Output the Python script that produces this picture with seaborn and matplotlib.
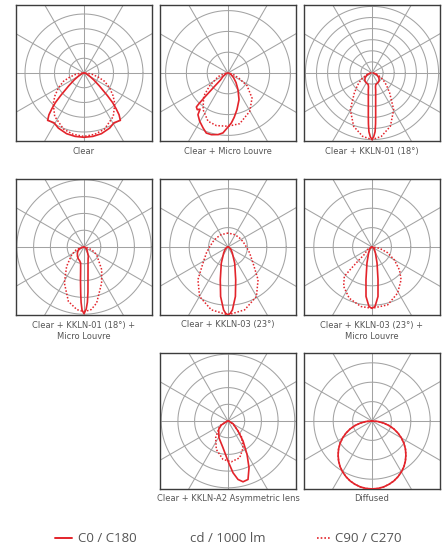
"""Photometric polar diagrams (cd / 1000 lm) for the luminaire optic variants.

Each panel shows C0/C180 (solid) and C90/C270 (dotted) intensity curves.
Angles are degrees from nadir (positive = right), values are in units of the
panel's ring step.
"""
import matplotlib.pyplot as plt
import numpy as np
import pandas as pd
import seaborn as sns
from matplotlib.lines import Line2D

RED = "#e3242b"
GRID = "#a3a3a3"
FRAME = "#3c3c3c"
TEXT = "#555555"

# ---- data -----------------------------------------------------------------
# Clear
clear_c0_ang = [-90, -80, -70, -60, -55, -50, -46, -44, -42, -40, -37.5, -34, -31, -25, -16, -8, 0,
                8, 16, 25, 31, 34, 37.5, 40, 42, 44, 46, 50, 55, 60, 70, 80, 90]
clear_c0_val = [0.03, 0.08, 0.2, 0.45, 0.8, 1.35, 2.2, 2.8, 3.25, 3.7, 4.05, 3.98, 3.94, 4.12, 4.28, 4.34, 4.36,
                4.34, 4.28, 4.12, 3.94, 3.98, 4.05, 3.7, 3.25, 2.8, 2.2, 1.35, 0.8, 0.45, 0.2, 0.08, 0.03]
clear_c90_ang = [-90, -85, -80, -74, -68, -60, -52, -45, -34, -20, -10, 0,
                 10, 20, 34, 45, 52, 60, 68, 74, 80, 85, 90]
clear_c90_val = [0.1, 0.3, 0.6, 1.0, 1.5, 2.0, 2.5, 2.95, 3.55, 4.05, 4.22, 4.3,
                 4.22, 4.05, 3.55, 2.95, 2.5, 2.0, 1.5, 1.0, 0.6, 0.3, 0.1]

# Clear + Micro Louvre
louvre_c0_ang = [-90, -70, -55, -47, -45, -44, -43.5, -43, -40, -37.7, -35.8, -30.4, -24.4, -19.9, -15,
                 -9.2, -4.8, -1, 3.8, 8, 13.8, 22.4, 31, 40, 50, 65, 90]
louvre_c0_val = [0.03, 0.1, 0.3, 0.5, 1.0, 1.6, 2.0, 2.23, 2.3, 2.2, 2.47, 2.69, 2.9, 3.07, 3.07,
                 3.0, 2.89, 2.65, 2.41, 2.15, 1.81, 1.39, 0.93, 0.6, 0.35, 0.15, 0.03]
louvre_c90_ang = [-90, -70, -55.4, -46.2, -34.3, -22.5, -12.5, 0, 13, 29.5, 43.8, 56.3, 64, 75, 90]
louvre_c90_val = [0.1, 0.5, 1.07, 1.62, 2.13, 2.51, 2.59, 2.56, 2.5, 2.12, 1.67, 1.1, 0.6, 0.25, 0.05]

# Clear + KKLN-01 (18°)
k01_c0_ang = [-90, -75, -65, -55, -45, -35, -25, -18, -14, -12, -10, -8, -6, -5, -4, -3, -1.5, 0,
              1.5, 3, 4, 5, 6, 8, 10, 12, 14, 18, 25, 35, 45, 55, 65, 75, 90]
k01_c0_val = [0.1, 0.35, 0.55, 0.75, 0.92, 1.0, 1.05, 1.1, 1.3, 1.6, 1.9, 2.37, 3.15, 3.8, 4.6, 5.3, 5.75, 6.0,
              5.75, 5.3, 4.6, 3.8, 3.15, 2.37, 1.9, 1.6, 1.3, 1.1, 1.05, 1.0, 0.92, 0.75, 0.55, 0.35, 0.1]
k01_c90_ang = [-90, -80, -70, -58.8, -50, -41.5, -30.6, -19, -8.4, 0, 8.4, 19, 30.6, 41.5, 50, 58.8, 70, 80, 90]
k01_c90_val = [0.1, 0.3, 0.6, 1.16, 1.7, 2.4, 3.84, 5.08, 5.77, 6.0, 5.77, 5.08, 3.84, 2.4, 1.7, 1.16, 0.6, 0.3, 0.1]

# Clear + KKLN-01 (18°) + Micro Louvre
k01l_c0_ang = [-90, -71.6, -60, -48, -35, -25, -18, -12, -10, -8, -6, -4, -3, -1.8, 0,
               2, 3.5, 5, 7, 10, 14, 20, 25, 31.4, 45, 56, 90]
k01l_c0_val = [0.03, 0.25, 0.4, 0.53, 0.68, 0.79, 0.85, 0.97, 1.15, 1.45, 2.0, 2.8, 3.3, 3.75, 3.97,
               3.7, 3.3, 2.7, 1.95, 1.38, 0.99, 0.72, 0.61, 0.42, 0.25, 0.14, 0.03]
k01l_c90_ang = [-90, -70, -58, -41.9, -28.6, -16, -6.5, 0, 6.5, 12.7, 26, 38, 58.8, 70, 90]
k01l_c90_val = [0.1, 0.5, 0.86, 1.55, 2.44, 3.37, 3.75, 3.85, 3.75, 3.42, 2.39, 1.71, 0.88, 0.5, 0.1]

# Clear + KKLN-03 (23°)
k03_c0_ang = [-90, -70, -50, -35.8, -22.6, -13.2, -8.5, -4, -2, 0, 2, 4, 8.5, 13.2, 22.6, 35.8, 50, 70, 90]
k03_c0_val = [0.02, 0.08, 0.2, 0.38, 0.9, 1.74, 2.58, 3.25, 3.42, 3.5, 3.42, 3.25, 2.58, 1.74, 0.9, 0.38, 0.2, 0.08, 0.02]
k03_c90_ang = [-180, -150, -127, -110, -90, -75, -57.4, -42.6, -29.9, -14.9, 0,
               14.9, 29.9, 42.6, 57.4, 75, 90, 110, 127, 150, 180]
k03_c90_val = [0.72, 0.73, 0.76, 0.82, 0.95, 1.15, 1.53, 2.29, 2.94, 3.35, 3.5,
               3.35, 2.94, 2.29, 1.53, 1.15, 0.95, 0.82, 0.76, 0.73, 0.72]

# Clear + KKLN-03 (23°) + Micro Louvre
k03l_c0_ang = [-90, -50, -30, -17.4, -10.4, -6.9, -2.9, 0, 2.9, 6.9, 10.4, 17.4, 30, 50, 90]
k03l_c0_val = [0.02, 0.15, 0.35, 0.87, 1.72, 2.57, 3.07, 3.16, 3.07, 2.57, 1.72, 0.87, 0.35, 0.15, 0.02]
k03l_c90_ang = [-90, -60, -46, -45, -44, -43.3, -35.8, -24, -10.5, 0, 15.2, 29, 41.6, 50, 60, 70, 80, 90]
k03l_c90_val = [0.05, 0.3, 0.5, 1.0, 1.6, 2.08, 2.5, 2.89, 3.12, 3.16, 3.09, 2.72, 2.26, 1.85, 1.33, 0.85, 0.4, 0.05]

# Clear + KKLN-A2 Asymmetric lens
a2_c0_ang = [-90, -59, -48, -28.4, -10.6, 0, 5.5, 9.7, 13.9, 18.9, 24.2, 29.7, 36.9, 45, 62, 90]
a2_c0_val = [0.03, 0.47, 0.75, 1.14, 1.63, 2.4, 3.11, 3.55, 3.75, 3.7, 3.07, 2.3, 1.5, 0.85, 0.34, 0.03]
a2_c90_ang = [-90, -59, -36.5, -22.4, -7.4, 4.7, 17.7, 29.4, 41.6, 53, 70, 90]
a2_c90_val = [0.05, 0.58, 1.24, 1.84, 2.32, 2.45, 2.31, 1.84, 1.2, 0.5, 0.15, 0.03]

# Diffused
diff_ang = [-90, -85, -80, -75, -70, -65, -60, -55, -50, -45, -40, -35, -30, -25, -20, -15, -10, -5, 0,
            5, 10, 15, 20, 25, 30, 35, 40, 45, 50, 55, 60, 65, 70, 75, 80, 85, 90]
diff_val = [0.0, 0.31, 0.61, 0.91, 1.2, 1.48, 1.75, 2.01, 2.25, 2.47, 2.68, 2.87, 3.03, 3.17, 3.29, 3.38, 3.45, 3.49, 3.5,
            3.49, 3.45, 3.38, 3.29, 3.17, 3.03, 2.87, 2.68, 2.47, 2.25, 2.01, 1.75, 1.48, 1.2, 0.91, 0.61, 0.31, 0.0]

labels = ["Clear", "Clear + Micro Louvre", "Clear + KKLN-01 (18°)",
          "Clear + KKLN-01 (18°) +\nMicro Louvre", "Clear + KKLN-03 (23°)",
          "Clear + KKLN-03 (23°) +\nMicro Louvre", "Clear + KKLN-A2 Asymmetric lens", "Diffused"]
ring_counts = [4, 3, 6, 4, 3, 3, 4, 3]

curves = [
    (clear_c0_ang, clear_c0_val, clear_c90_ang, clear_c90_val),
    (louvre_c0_ang, louvre_c0_val, louvre_c90_ang, louvre_c90_val),
    (k01_c0_ang, k01_c0_val, k01_c90_ang, k01_c90_val),
    (k01l_c0_ang, k01l_c0_val, k01l_c90_ang, k01l_c90_val),
    (k03_c0_ang, k03_c0_val, k03_c90_ang, k03_c90_val),
    (k03l_c0_ang, k03l_c0_val, k03l_c90_ang, k03l_c90_val),
    (a2_c0_ang, a2_c0_val, a2_c90_ang, a2_c90_val),
    (diff_ang, diff_val, diff_ang, diff_val),
]

# ---- layout (pixels in a 445x544 canvas) -----------------------------------
W, H = 445, 544
BOX = 136
COL_X = [16, 160, 304]
ROW_Y = [5, 179, 353]
SLOTS = [(0, 0), (0, 1), (0, 2), (1, 0), (1, 1), (1, 2), (2, 1), (2, 2)]
RING_PX = [14.75, 20.8, 11.1, 16.8, 19.4, 19.4, 16.7, 19.4]
LABEL_Y = [151.5, 151.5, 151.5, 331, 324.5, 331, 498.5, 498.5]

sns.set_style("white")
plt.rcParams["font.family"] = ["DejaVu Sans"]


def to_xy(ang, val):
    t = np.deg2rad(np.asarray(ang, dtype=float))
    r = np.asarray(val, dtype=float)
    return pd.DataFrame({"x": r * np.sin(t), "y": -r * np.cos(t)})


def draw_panel(ax, n_rings, ring_px, c0_ang, c0_val, c90_ang, c90_val):
    lim = (BOX / 2) / ring_px
    phi = np.linspace(0, 2 * np.pi, 361)
    for k in range(1, n_rings + 1):
        ax.plot(k * np.cos(phi), k * np.sin(phi), color=GRID, lw=0.75, zorder=1)
    for a in np.deg2rad(np.arange(0, 180, 30)):
        ax.plot([-2 * lim * np.sin(a), 2 * lim * np.sin(a)],
                [-2 * lim * np.cos(a), 2 * lim * np.cos(a)], color=GRID, lw=0.75, zorder=1)

    d90 = to_xy(c90_ang, c90_val)
    sns.lineplot(data=d90, x="x", y="y", sort=False, estimator=None, ax=ax,
                 color=RED, lw=1.1, linestyle=(0, (1, 1.2)), zorder=3)
    d0 = to_xy(c0_ang, c0_val)
    sns.lineplot(data=d0, x="x", y="y", sort=False, estimator=None, ax=ax,
                 color=RED, lw=1.2, zorder=4)

    ax.set_xlim(-lim, lim)
    ax.set_ylim(-lim, lim)
    ax.set_aspect("equal", adjustable="box")
    ax.set_xticks([])
    ax.set_yticks([])
    ax.set_xlabel("")
    ax.set_ylabel("")
    for s in ax.spines.values():
        s.set_visible(True)
        s.set_color(FRAME)
        s.set_linewidth(1.0)


fig = plt.figure(figsize=(W / 100, H / 100), dpi=100)

for i, (row, col) in enumerate(SLOTS):
    x0, y0 = COL_X[col], ROW_Y[row]
    ax = fig.add_axes([x0 / W, 1 - (y0 + BOX) / H, BOX / W, BOX / H])
    c0a, c0v, c90a, c90v = curves[i]
    draw_panel(ax, ring_counts[i], RING_PX[i], c0a, c0v, c90a, c90v)
    fig.text((x0 + BOX / 2) / W, 1 - LABEL_Y[i] / H, labels[i], ha="center", va="center",
             fontsize=6.7, fontstretch="condensed", color=TEXT, linespacing=1.25)

# legend row
leg_font = ["Open Sans", "DejaVu Sans"]
ly = 1 - 538 / H
fig.add_artist(Line2D([55 / W, 72 / W], [ly, ly], color=RED, lw=1.4, transform=fig.transFigure))
fig.text(78 / W, ly, "C0 / C180", ha="left", va="center", fontsize=9.5, color=TEXT, family=leg_font)
fig.text(228 / W, ly, "cd / 1000 lm", ha="center", va="center", fontsize=9.5, color=TEXT, family=leg_font)
fig.add_artist(Line2D([317 / W, 331 / W], [ly, ly], color=RED, lw=1.2, linestyle=(0, (1, 1.2)),
                      transform=fig.transFigure))
fig.text(335 / W, ly, "C90 / C270", ha="left", va="center", fontsize=9.5, color=TEXT, family=leg_font)

fig.savefig("out.png", dpi=100, facecolor="white")
